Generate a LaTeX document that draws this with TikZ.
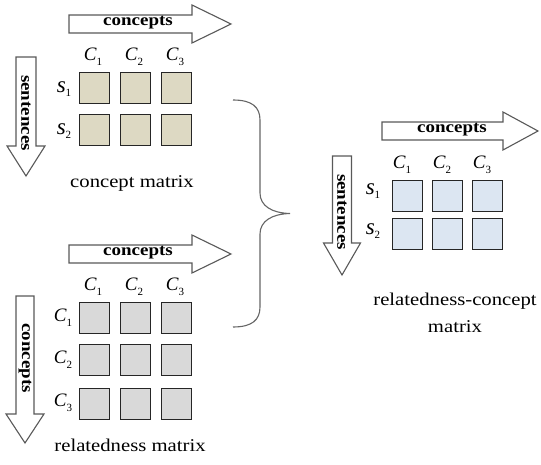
\documentclass[tikz,border=0pt]{standalone}
\usepackage{fontspec}
\setmainfont{Liberation Serif}
\newfontfamily\widserif{Liberation Serif}[FakeStretch=1.15]
\begin{document}
\begin{tikzpicture}[x=1pt,y=-1pt,
  arrowline/.style={draw=black!65,line width=1.1pt,fill=white,line join=miter},
  arrowtext/.style={font=\widserif\fontsize{16.5}{16.5}\selectfont\bfseries,inner sep=0pt},
  cell/.style={draw=black!85,line width=1.3pt,minimum width=30pt,minimum height=31pt,inner sep=0pt,anchor=north west},
  tancell/.style={cell,fill={rgb,255:red,221;green,217;blue,195}},
  graycell/.style={cell,fill={rgb,255:red,217;green,217;blue,217}},
  bluecell/.style={cell,fill={rgb,255:red,220;green,230;blue,242}},
  lbl/.style={font=\fontsize{19}{19}\selectfont,inner sep=0pt},
  caption/.style={font=\widserif\fontsize{18}{27}\selectfont,inner sep=0pt,align=center},
  bracestyle/.style={draw=black!60,line width=1.1pt}]
\newcommand{\harrowshape}[6]{% x0, x1, x2, yc, half shaft, half head
  \draw[arrowline] (#1,#4-#5) -- (#2,#4-#5) -- (#2,#4-#6) -- (#3,#4) -- (#2,#4+#6) -- (#2,#4+#5) -- (#1,#4+#5) -- cycle;}
\newcommand{\varrowshape}[6]{% xc, y0, y1, y2, half shaft, half head
  \draw[arrowline] (#1-#5,#2) -- (#1+#5,#2) -- (#1+#5,#3) -- (#1+#6,#3) -- (#1,#4) -- (#1-#6,#3) -- (#1-#5,#3) -- cycle;}
\newcommand{\sublbl}[2]{\textit{#1}\raisebox{-0.55ex}{\fontsize{11}{11}\selectfont #2}}
\newcommand{\slbl}[1]{{\fontsize{23}{23}\selectfont\textit{s}}\raisebox{-0.55ex}{\fontsize{11}{11}\selectfont #1}}
\useasboundingbox (0,0) rectangle (541,465);

% ---- concept matrix (sentences x concepts) ----
\harrowshape{69}{192}{231}{24}{9}{19}
\node[arrowtext] (cmTop) at (138,23) {concepts};
\varrowshape{26}{57}{146}{176}{10}{19}
\node[arrowtext,rotate=-90] (cmLeft) at (26,113) {sentences};
\foreach \c/\x in {1/79,2/120,3/161}{
  \node[lbl] (cmC\c) at (\x+14,57) {\sublbl{C}{\c}};
  \foreach \r/\y in {1/72,2/114}{
    \node[tancell] (cm\r\c) at (\x,\y) {};
  }
}
\node[lbl] (cmS1) at (64,89) {\slbl{1}};
\node[lbl] (cmS2) at (64,131) {\slbl{2}};
\node[caption] (cmCap) at (132,183) {concept matrix};

% ---- relatedness matrix (concepts x concepts) ----
\harrowshape{69}{192}{231}{254}{9}{19}
\node[arrowtext] (rmTop) at (138,253) {concepts};
\varrowshape{25}{296}{414}{443}{9}{19}
\node[arrowtext,rotate=-90] (rmLeft) at (25,358) {concepts};
\foreach \c/\x in {1/79,2/120,3/161}{
  \node[lbl] (rmC\c) at (\x+14,287) {\sublbl{C}{\c}};
  \foreach \r/\y in {1/302,2/344,3/388}{
    \node[graycell] (rm\r\c) at (\x,\y) {};
  }
}
\foreach \r/\y in {1/318,2/360,3/403}{
  \node[lbl] (rmR\r) at (63,\y) {\sublbl{C}{\r}};
}
\node[caption] (rmCap) at (130,445) {relatedness matrix};

% ---- combining brace ----
\draw[bracestyle] (233,100) .. controls (252,100) and (260,107) .. (260,120)
  -- (260,193) .. controls (260,206) and (272,213) .. (290,213.5)
  .. controls (272,214) and (260,221) .. (260,234)
  -- (260,307) .. controls (260,320) and (252,327) .. (233,327);

% ---- relatedness-concept matrix ----
\harrowshape{382}{503}{538}{131}{9}{19}
\node[arrowtext] (rcTop) at (452,130) {concepts};
\varrowshape{342}{156}{243}{275}{9.5}{18.5}
\node[arrowtext,rotate=-90] (rcLeft) at (342,212) {sentences};
\foreach \c/\x in {1/392,2/432,3/472}{
  \node[lbl] (rcC\c) at (\x+10,165) {\sublbl{C}{\c}};
  \foreach \r/\y in {1/180,2/218}{
    \node[bluecell] (rc\r\c) at (\x,\y) {};
  }
}
\node[lbl] (rcS1) at (373,191) {\slbl{1}};
\node[lbl] (rcS2) at (373,231) {\slbl{2}};
\node[caption] (rcCap) at (455,313) {relatedness-concept\\matrix};
\end{tikzpicture}
\end{document}
